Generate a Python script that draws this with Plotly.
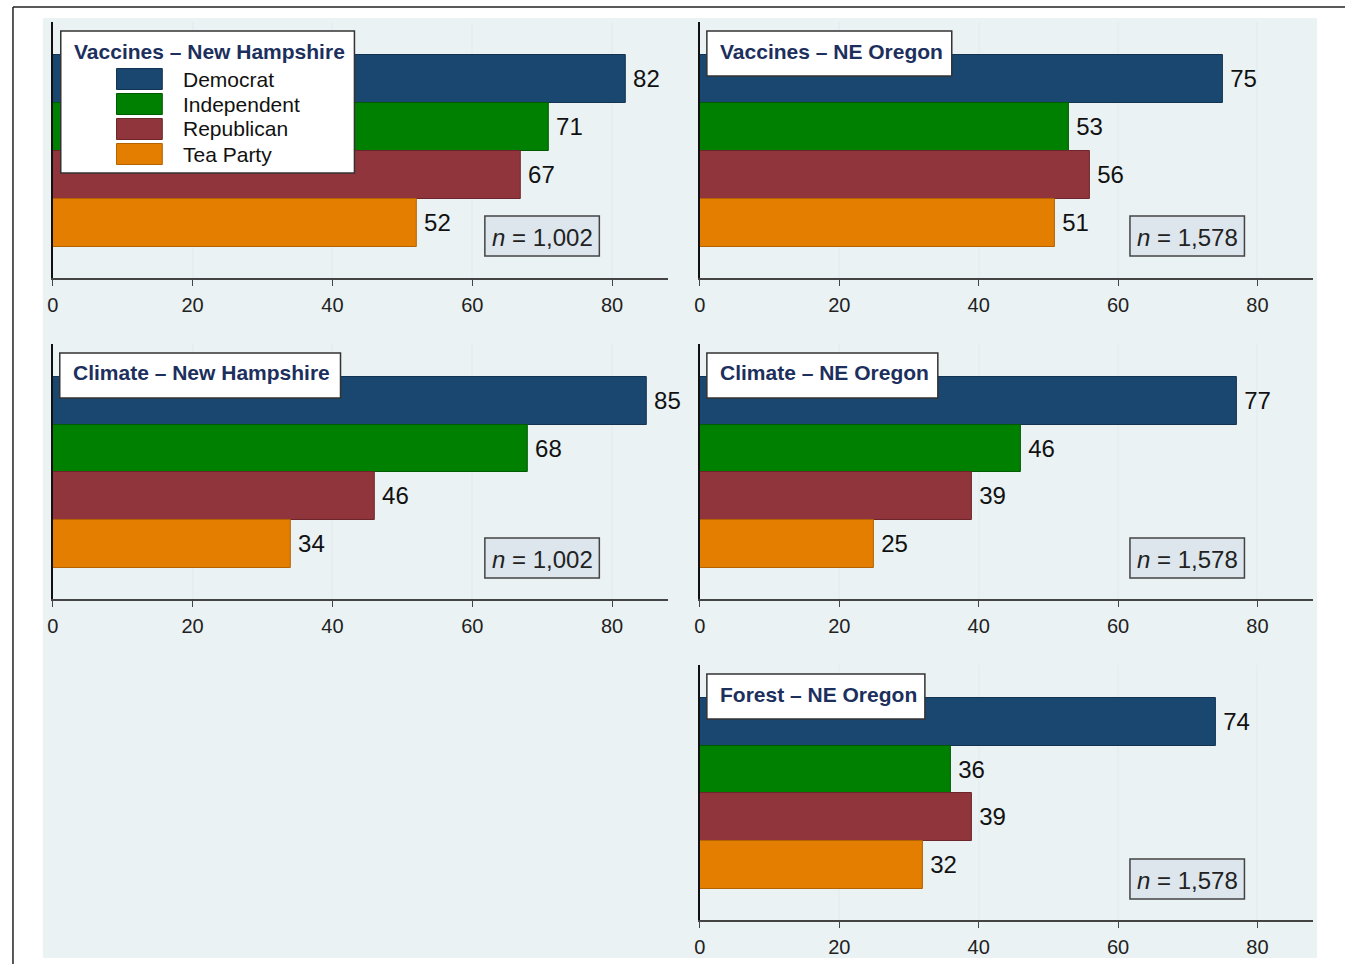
import plotly.graph_objects as go

W, H = 1345, 964

parties = ["Democrat", "Independent", "Republican", "Tea Party"]
colors = ["#1a476f", "#008000", "#90353b", "#e37e00"]
edge_colors = ["#123352", "#005a00", "#6c262b", "#b36300"]

panel_titles = ["Vaccines – New Hampshire", "Vaccines – NE Oregon",
                "Climate – New Hampshire", "Climate – NE Oregon",
                "Forest – NE Oregon"]
vaccines_nh = [82, 71, 67, 52]
vaccines_or = [75, 53, 56, 51]
climate_nh = [85, 68, 46, 34]
climate_or = [77, 46, 39, 25]
forest_or = [74, 36, 39, 32]
panel_values = [vaccines_nh, vaccines_or, climate_nh, climate_or, forest_or]
panel_n = ["1,002", "1,578", "1,002", "1,578", "1,578"]
x_ticks = [0, 20, 40, 60, 80]

# layout geometry (pixels)
cols = [(47, 665), (697, 1313)]
rows = [(22, 278), (344, 599), (665, 920)]
panel_pos = [(0, 0), (1, 0), (0, 1), (1, 1), (1, 2)]
title_box_w = [295, 246, 282, 232, 219]


def px(x):
    return x / W


def py(y):
    return 1 - y / H


FONT = "Liberation Sans, Arial, Helvetica, sans-serif"
NAVY = "#1c2f5d"

fig = go.Figure()
shapes = []
annotations = []

# background panel and outer frame
shapes.append(dict(type="rect", xref="paper", yref="paper", x0=px(37), x1=px(1317),
                   y0=py(958), y1=py(18), fillcolor="#eaf2f3", line=dict(width=0),
                   layer="below"))
shapes.append(dict(type="line", xref="paper", yref="paper", x0=px(7), x1=1,
                   y0=py(7), y1=py(7), line=dict(color="#222", width=1.5)))
shapes.append(dict(type="line", xref="paper", yref="paper", x0=px(7), x1=px(7),
                   y0=0, y1=py(7), line=dict(color="#222", width=1.5)))

for i, vals in enumerate(panel_values):
    c, r = panel_pos[i]
    xa = "xaxis" if i == 0 else f"xaxis{i+1}"
    ya = "yaxis" if i == 0 else f"yaxis{i+1}"
    xr = "x" if i == 0 else f"x{i+1}"
    yr = "y" if i == 0 else f"y{i+1}"
    x0p, x1p = cols[c]
    y0p, y1p = rows[r]
    fig.add_trace(go.Bar(
        x=vals, y=list(range(len(parties))), orientation="h",
        marker=dict(color=colors, line=dict(color=edge_colors, width=1)),
        width=1, text=["\u2009" + str(v) for v in vals], textposition="outside",
        textfont=dict(size=24, color="#111", family=FONT),
        constraintext="none", cliponaxis=False, showlegend=False,
        xaxis=xr, yaxis=yr, hoverinfo="skip"))
    fig.update_layout(**{
        xa: dict(domain=[px(x0p), px(x1p)], range=[0, 88], tickvals=x_ticks,
                 ticks="outside", ticklen=6, tickcolor="#444", tickwidth=1.2,
                 showline=True, linecolor="#444", linewidth=1.5,
                 showgrid=True, gridcolor="#e6eef1", gridwidth=1.5, zeroline=False,
                 tickfont=dict(size=20, color="#222", family=FONT),
                 ticklabelstandoff=2, anchor=yr, fixedrange=True),
        ya: dict(domain=[py(y1p), py(y0p)], range=[4.15, -1.19], showticklabels=False,
                 showline=True, linecolor="#111", linewidth=1.5, showgrid=False,
                 zeroline=False, ticks="", anchor=xr, fixedrange=True),
    })

    # title box
    bx0 = x0p + 7
    by0 = y0p + 9
    if i == 0:
        by1 = y0p + 151
        bx0 = x0p + 8
    else:
        by1 = by0 + 45
    bx1 = bx0 + title_box_w[i]
    shapes.append(dict(type="rect", xref="paper", yref="paper", x0=px(bx0), x1=px(bx1),
                       y0=py(by1), y1=py(by0), fillcolor="white",
                       line=dict(color="#333", width=1.5), layer="above"))
    annotations.append(dict(xref="paper", yref="paper", x=px(bx0 + 11), y=py(by0 + 20),
                            xanchor="left", yanchor="middle", showarrow=False,
                            text=f"<b>{panel_titles[i]}</b>",
                            font=dict(size=21, color=NAVY, family=FONT)))

    # n box
    nx0, nx1 = x1p - 184, x1p - 69
    ny0, ny1 = y0p + 194, y0p + 234
    shapes.append(dict(type="rect", xref="paper", yref="paper", x0=px(nx0), x1=px(nx1),
                       y0=py(ny1), y1=py(ny0), fillcolor="#dce6ec",
                       line=dict(color="#444", width=1.5), layer="above"))
    annotations.append(dict(xref="paper", yref="paper", x=px((nx0 + nx1) / 2),
                            y=py((ny0 + ny1) / 2 + 1), xanchor="center", yanchor="middle",
                            showarrow=False, text=f"<i>n</i> = {panel_n[i]}",
                            font=dict(size=24, color="#222", family=FONT)))

# legend inside first panel's title box
leg_rows = [79, 104, 129, 154]
for k, name in enumerate(parties):
    yc = leg_rows[k]
    shapes.append(dict(type="rect", xref="paper", yref="paper", x0=px(111), x1=px(157),
                       y0=py(yc + 10.5), y1=py(yc - 10.5), fillcolor=colors[k],
                       line=dict(color=edge_colors[k], width=1), layer="above"))
    annotations.append(dict(xref="paper", yref="paper", x=px(176), y=py(yc),
                            xanchor="left", yanchor="middle", showarrow=False,
                            text=name, font=dict(size=21, color="#111", family=FONT)))

fig.update_layout(width=W, height=H, margin=dict(l=0, r=0, t=0, b=0),
                  paper_bgcolor="white", plot_bgcolor="white",
                  shapes=shapes, annotations=annotations, showlegend=False,
                  bargap=0, font=dict(family=FONT))

fig.write_html("out.html", config={"displayModeBar": False},
               post_script="document.body.style.margin='0';"
                           "document.body.style.overflow='hidden';")
